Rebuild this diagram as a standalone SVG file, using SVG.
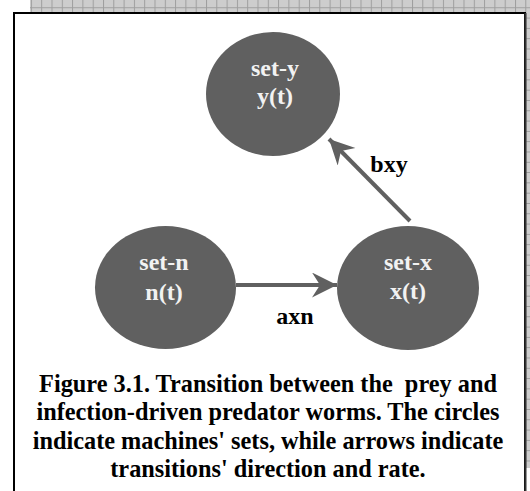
<svg xmlns="http://www.w3.org/2000/svg" width="530" height="491" viewBox="0 0 530 491">
<defs>
<pattern id="grid" width="10.3" height="10.3" patternUnits="userSpaceOnUse" x="0" y="-3">
<rect width="10.3" height="10.3" fill="#cdcdcd"/>
<path d="M0 0.5 H10.3 M0.5 0 V10.3" stroke="#9e9e9e" stroke-width="1" fill="none"/>
</pattern>
<marker id="arr" markerUnits="userSpaceOnUse" markerWidth="26" markerHeight="26" refX="25" refY="12.5" orient="auto" viewBox="0 0 26 26">
<path d="M25 12.5 L0 0 L8 12.5 L0 25 Z" fill="#606060"/>
</marker>
<style>
.node{fill:#606060}
.nl{font-family:"Liberation Serif","Times New Roman",serif;font-weight:bold;font-size:24px;fill:#f2f2f2;text-anchor:middle}
.el{font-family:"Liberation Serif","Times New Roman",serif;font-weight:bold;font-size:24px;fill:#000;text-anchor:middle}
.cap{font-family:"Liberation Serif","Times New Roman",serif;font-weight:bold;font-size:24.3px;fill:#000;text-anchor:middle}
.edge{stroke:#606060;stroke-width:4;fill:none}
</style>
</defs>
<rect width="530" height="491" fill="#fff"/>
<rect x="30" y="0" width="500" height="12" fill="url(#grid)"/>
<rect x="526" y="0" width="4" height="468" fill="url(#grid)"/>
<rect x="14" y="13" width="511" height="490" fill="#fff" stroke="#000" stroke-width="2"/>
<line x1="525.5" y1="13" x2="525.5" y2="491" stroke="#333" stroke-width="2"/>
<g id="connectors">
<line class="edge" x1="236" y1="285" x2="337" y2="285" marker-end="url(#arr)"/>
<text class="el" x="295" y="324">axn</text>
<line class="edge" x1="410" y1="221" x2="329" y2="139" marker-end="url(#arr)"/>
<text class="el" x="389" y="172">bxy</text>
</g>
<g id="set-y">
<ellipse class="node" cx="273" cy="94" rx="67" ry="62"/>
<text class="nl" x="275" y="76">set-y</text>
<text class="nl" x="275" y="104">y(t)</text>
</g>
<g id="set-n">
<ellipse class="node" cx="165.5" cy="287.5" rx="70.5" ry="61.5"/>
<text class="nl" x="164" y="270">set-n</text>
<text class="nl" x="164" y="300">n(t)</text>
</g>
<g id="set-x">
<ellipse class="node" cx="408" cy="288" rx="71" ry="62"/>
<text class="nl" x="408" y="270">set-x</text>
<text class="nl" x="408" y="299">x(t)</text>
</g>
<g id="caption">
<text class="cap" x="268" y="392" xml:space="preserve">Figure 3.1. Transition between the  prey and</text>
<text class="cap" x="268" y="420">infection-driven predator worms. The circles</text>
<text class="cap" x="268" y="449">indicate machines' sets, while arrows indicate</text>
<text class="cap" x="268" y="477">transitions' direction and rate.</text>
</g>
</svg>
